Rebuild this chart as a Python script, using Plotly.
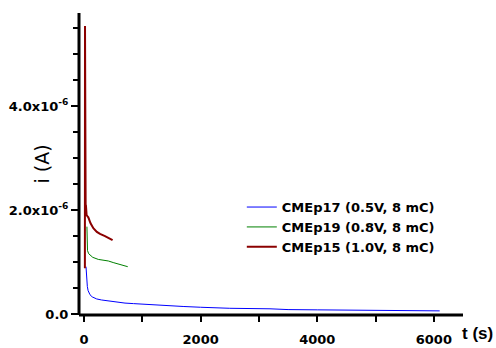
import plotly.graph_objects as go

# Data (time in s, current in A)
t17 = [34, 40, 50, 57, 70, 85, 103, 140, 217, 300, 417, 550, 703, 850, 990, 1200,
       1470, 1700, 2000, 2500, 3190, 3500, 4000, 4650, 5200, 6100]
i17 = [0.91, 0.75, 0.60, 0.53, 0.45, 0.40, 0.37, 0.33, 0.29, 0.27, 0.25, 0.23, 0.21,
       0.20, 0.19, 0.17, 0.16, 0.145, 0.13, 0.11, 0.10, 0.085, 0.08, 0.077, 0.062, 0.06]

t19 = [50, 52, 60, 80, 103, 150, 245, 330, 417, 500, 590, 680, 750]
i19 = [1.68, 1.30, 1.22, 1.16, 1.13, 1.09, 1.05, 1.04, 1.02, 0.99, 0.96, 0.93, 0.91]

t15 = [15, 17, 20, 25, 28, 32, 38, 45, 60, 74, 110, 160, 220, 274, 360, 420, 490]
i15 = [0.88, 5.54, 2.0, 2.8, 2.0, 2.1, 1.92, 1.90, 1.88, 1.86, 1.75, 1.65, 1.58,
       1.54, 1.50, 1.47, 1.42]

names = ["CMEp17 (0.5V, 8 mC)", "CMEp19 (0.8V, 8 mC)", "CMEp15 (1.0V, 8 mC)"]
colors = ["#0000ff", "#008000", "#8b0000"]
widths = [1, 1, 2]

ytick_vals = [0, 2e-6, 4e-6]
ytick_text = ["0.0", "2.0x10<sup>-6</sup>", "4.0x10<sup>-6</sup>"]
yminor_vals = [0.5e-6, 1e-6, 1.5e-6, 2.5e-6, 3e-6, 3.5e-6, 4.5e-6, 5e-6, 5.5e-6]
xtick_vals = [0, 2000, 4000, 6000]
xminor_vals = [1000, 3000, 5000]

fig = go.Figure()
for t, i, n, c, w in zip([t17, t19, t15], [i17, i19, i15], names, colors, widths):
    fig.add_trace(go.Scatter(x=t, y=[v * 1e-6 for v in i], mode="lines", name=n,
                             line=dict(color=c, width=w)))

wide = "DejaVu Sans, Verdana, sans-serif"
arial = "Arial, Liberation Sans, sans-serif"

fig.update_layout(
    template="none",
    width=496, height=348,
    margin=dict(l=79, r=33, t=13, b=33),
    paper_bgcolor="white", plot_bgcolor="white",
    font=dict(family=wide, color="black"),
    showlegend=True,
    legend=dict(x=0.424, y=0.407, xanchor="left", yanchor="top",
                bgcolor="rgba(0,0,0,0)", tracegroupgap=0,
                font=dict(size=13, family=wide, weight="bold")),
    xaxis=dict(range=[-86, 6500], showgrid=False, zeroline=False, automargin=False,
               showline=False,
               ticks="outside", ticklen=6, tickwidth=2, tickcolor="#000000",
               tickmode="array", tickvals=xtick_vals,
               ticklabelstandoff=6,
               tickfont=dict(size=13, weight="bold", color="black"),
               minor=dict(tickmode="array", tickvals=xminor_vals, ticks="outside",
                          ticklen=6, tickwidth=2, tickcolor="#000000")),
    yaxis=dict(range=[-0.019e-6, 5.79e-6], showgrid=False, zeroline=False, automargin=False,
               showline=False,
               ticks="outside", ticklen=7, tickwidth=2, tickcolor="#000000",
               tickmode="array", tickvals=ytick_vals, ticktext=ytick_text,
               tickfont=dict(size=13, weight="bold", color="black"),
               minor=dict(tickmode="array", tickvals=yminor_vals, ticks="outside",
                          ticklen=5, tickwidth=2, tickcolor="#000000")),
)

# axis lines
fig.add_shape(type="line", xref="paper", yref="paper", x0=0, x1=0, y0=0, y1=1,
              line=dict(color="black", width=3))
fig.add_shape(type="line", xref="paper", yref="paper", x0=0, x1=1, y0=0, y1=0,
              line=dict(color="black", width=3))

fig.add_annotation(text="i (A)", xref="paper", yref="paper", x=-0.1, y=0.5,
                   xanchor="center", yanchor="middle", textangle=-90, showarrow=False,
                   xshift=1, font=dict(size=19, family=wide))
fig.add_annotation(text="t (s)", xref="paper", yref="paper", x=1.0, y=-0.06,
                   xanchor="left", yanchor="middle", showarrow=False,
                   xshift=-3, font=dict(size=17, family=arial, weight="bold"))

fig.write_html("out.html")
